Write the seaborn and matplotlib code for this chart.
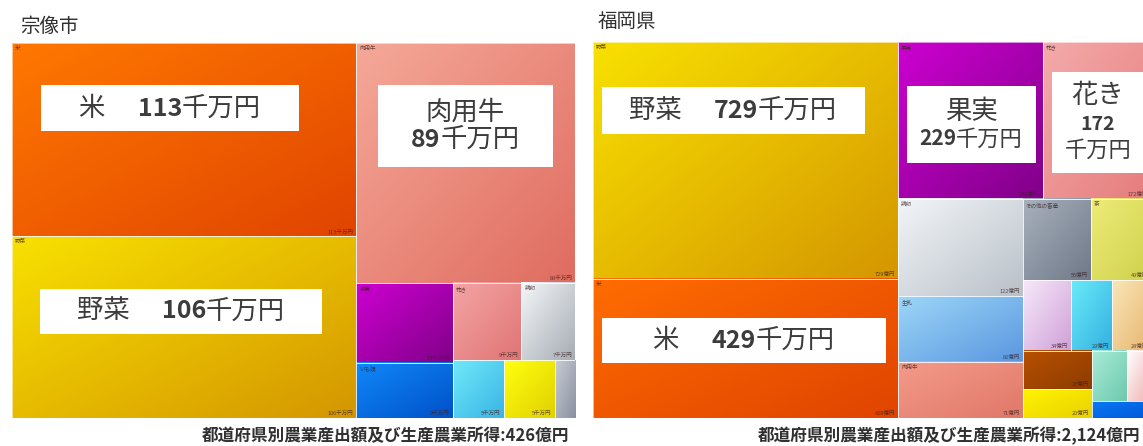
"""
Agricultural output treemaps: Munakata city vs Fukuoka prefecture.
Writes out.png (1143x446).
"""

import matplotlib
matplotlib.use("Agg")
import matplotlib.pyplot as plt
import numpy as np
import seaborn as sns
from matplotlib.offsetbox import AnnotationBbox, HPacker, TextArea, VPacker
from matplotlib.patches import Rectangle

# data -----------------------------------------------------------------
mn_names = ["米", "野菜", "肉用牛", "果実", "いも類", "花き", "鶏卵", "豆類", "麦類", "その他"]
mn_values = [113, 106, 89, 13, 9, 9, 7, 5, 5, 2]
mn_name_shown = 7      # how many of the largest cells carry a name
mn_value_shown = 9     # how many carry a value
mn_title = "宗像市"
mn_footer = "都道府県別農業産出額及び生産農業所得:426億円"

fk_names = ["野菜", "米", "果実", "花き", "鶏卵", "生乳", "肉用牛", "その他の畜産", "茶",
            "麦類", "豆類", "いも類", "豚", "工芸農作物", "雑穀", "ブロイラー", "その他"]
fk_values = [729, 429, 229, 172, 122, 82, 71, 56, 49, 34, 29, 28, 27, 20, 18, 12, 10]
fk_name_shown = 9
fk_value_shown = 14
fk_title = "福岡県"
fk_footer = "都道府県別農業産出額及び生産農業所得:2,124億円"

# styles ---------------------------------------------------------------
mn_colors = [("#ff7800", "#e04400"), ("#f8e000", "#d49600"), ("#f5a898", "#df6c60"),
             ("#cc00d0", "#800088"), ("#1088f8", "#0050c8"), ("#f4a4a4", "#e07474"),
             ("#f4f6f8", "#a4acb4"), ("#70e8fa", "#38b4e4"), ("#ffff10", "#e0d000"),
             ("#c8ccd4", "#8890a0")]
fk_colors = [("#f8e000", "#d49600"), ("#ff6c00", "#e04400"), ("#cc00d0", "#800088"),
             ("#f4aaaa", "#e67c7c"), ("#f2f5f8", "#b8c0c8"), ("#9cd6f8", "#5a96e0"),
             ("#f49a8a", "#e07868"), ("#a8b0bc", "#6e7888"), ("#ecec78", "#d0d04c"),
             ("#f6e8fa", "#d0a0d8"), ("#6aeafa", "#34b0e0"), ("#fae6b8", "#e6b46c"),
             ("#b85000", "#8c3c00"), ("#fff400", "#e8d000"), ("#a8ecd8", "#6cc8ac"),
             ("#ffffff", "#f0b0b0"), ("#0a78f4", "#0058d8")]

FIG_W, FIG_H = 1143, 446
SQUARE_LIMIT = 2.7
TEXT_DARK = "#3c3c3c"

sns.set_theme(style="white")
plt.rcParams["font.family"] = ["Noto Sans CJK JP", "DejaVu Sans"]


def worst_ratio(row, side):
    thick = sum(row) / side
    return max(max(thick / (a / thick), (a / thick) / thick) for a in row)


def squarify(values, w, h):
    """Squarified layout, a bit greedier than the textbook one (like Excel)."""
    order = sorted(range(len(values)), key=lambda k: -values[k])
    scale = w * h / float(sum(values))
    areas = [values[k] * scale for k in order]
    x, y = 0.0, 0.0
    rects = {}
    i = 0
    while i < len(areas):
        side = min(w, h)
        row = [areas[i]]
        j = i + 1
        while j < len(areas):
            cand = row + [areas[j]]
            if worst_ratio(cand, side) <= max(worst_ratio(row, side), SQUARE_LIMIT):
                row = cand
                j += 1
            else:
                break
        thick = sum(row) / side
        pos = 0.0
        for n, a in enumerate(row):
            length = a / thick
            k = order[i + n]
            if w >= h:
                rects[k] = (x, y + pos, thick, length)
            else:
                rects[k] = (x + pos, y, length, thick)
            pos += length
        if w >= h:
            x += thick
            w -= thick
        else:
            y += thick
            h -= thick
        i = j
    return order, rects


def gradient(c1, c2):
    pal = np.array(sns.blend_palette([c1, c2], n_colors=64))
    gx, gy = np.meshgrid(np.linspace(0, 1, 32), np.linspace(0, 1, 32))
    t = ((gx + gy) / 2 * 63).astype(int)
    return pal[t]


def draw_treemap(left, top, w, h, names, values, colors, unit, n_name, n_value):
    ax = fig.add_axes([left / FIG_W, 1 - (top + h) / FIG_H, w / FIG_W, h / FIG_H])
    order, rects = squarify(values, w, h)
    for rank, k in enumerate(order):
        x, y, cw, ch = rects[k]
        c1, c2 = colors[k]
        ax.imshow(gradient(c1, c2), extent=(x, x + cw, y + ch, y),
                  aspect="auto", interpolation="bilinear", zorder=1)
        ax.add_patch(Rectangle((x, y), cw, ch, fill=False, edgecolor="white",
                               lw=0.7, alpha=0.6, zorder=2))
        if rank < n_name:
            ax.text(x + 3, y + 3, names[k], fontsize=4, ha="left", va="top",
                    color="#3a2020", alpha=0.75, zorder=2)
        if rank < n_value:
            ax.text(x + cw - 3, y + ch - 2, f"{values[k]}{unit}", fontsize=4,
                    ha="right", va="bottom", color="#3a2020", alpha=0.75, zorder=2)
    ax.set_xlim(0, w)
    ax.set_ylim(h, 0)
    ax.axis("off")
    return ax


def callout(ax, cx, cy, bw, bh, lines, sep=0):
    """White label box; each line is a list of (text, size, bold)."""
    ax.add_patch(Rectangle((cx - bw / 2, cy - bh / 2), bw, bh, facecolor="white",
                           edgecolor="none", zorder=3))
    rows = []
    for line in lines:
        parts = [TextArea(t, textprops=dict(fontsize=s, color=TEXT_DARK,
                                            fontweight="bold" if b else "normal"))
                 for t, s, b in line]
        rows.append(HPacker(children=parts, align="baseline", pad=0, sep=0))
    box = VPacker(children=rows, align="center", pad=0, sep=sep)
    ax.add_artist(AnnotationBbox(box, (cx, cy), xycoords="data", frameon=False,
                                 box_alignment=(0.5, 0.5), zorder=4))


fig = plt.figure(figsize=(FIG_W / 100, FIG_H / 100), dpi=100)

# Munakata
ax_mn = draw_treemap(12, 43, 563, 375, mn_names, mn_values, mn_colors, "千万円",
                     mn_name_shown, mn_value_shown)
callout(ax_mn, 158, 65, 258, 46, [[("米\u3000 ", 19, False), ("113", 18, True), ("千万円", 19, False)]])
callout(ax_mn, 453, 83, 175, 82, [[("肉用牛", 19, False)],
                                  [("89", 18, True), ("千万円", 19, False)]], sep=0)
callout(ax_mn, 169, 268, 282, 45, [[("野菜\u3000 ", 19, False), ("106", 18, True), ("千万円", 19, False)]])

# Fukuoka (box runs past the right edge of the picture)
ax_fk = draw_treemap(593, 42, 558, 376, fk_names, fk_values, fk_colors, "億円",
                     fk_name_shown, fk_value_shown)
callout(ax_fk, 140, 68, 263, 47, [[("野菜\u3000 ", 19, False), ("729", 18, True), ("千万円", 19, False)]])
callout(ax_fk, 151, 298, 284, 45, [[("米\u3000 ", 19, False), ("429", 18, True), ("千万円", 19, False)]])
callout(ax_fk, 378, 82, 129, 77, [[("果実", 19, False)],
                                  [("229", 15, True), ("千万円", 16, False)]], sep=2)
callout(ax_fk, 505, 80, 92, 101, [[("花き", 19, False)], [("172", 14, True)],
                                  [("千万円", 16, False)]], sep=4)

fig.text(20 / FIG_W, 1 - 26 / FIG_H, mn_title, fontsize=14, va="center", color="#303030")
fig.text(598 / FIG_W, 1 - 21 / FIG_H, fk_title, fontsize=14, va="center", color="#303030")
fig.text(569 / FIG_W, 1 - 436 / FIG_H, mn_footer, fontsize=12, fontweight="bold",
         ha="right", va="center", color="#303030")
fig.text(1140 / FIG_W, 1 - 436 / FIG_H, fk_footer, fontsize=12, fontweight="bold",
         ha="right", va="center", color="#303030")

fig.savefig("out.png", dpi=100)
